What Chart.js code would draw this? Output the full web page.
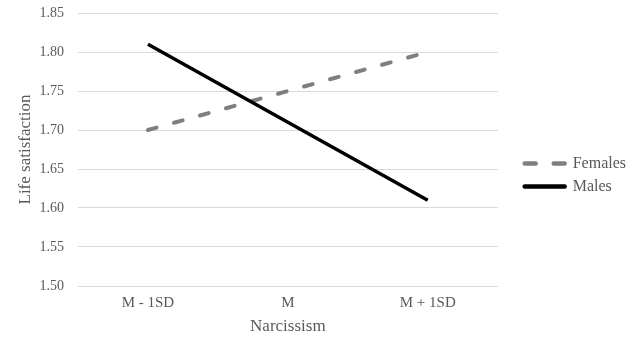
<!DOCTYPE html>
<html>
<head>
<meta charset="utf-8">
<script src="https://cdn.jsdelivr.net/npm/chart.js@4.4.1/dist/chart.umd.min.js"></script>
<style>
  html, body { margin: 0; padding: 0; background: #fff; }
  #wrap { width: 638px; height: 339px; }
</style>
</head>
<body>
<div id="wrap"><canvas id="chart" width="638" height="339"></canvas></div>
<script>
// Narcissism levels on the x axis
const categories = ['M - 1SD', 'M', 'M + 1SD'];
// Life satisfaction by gender
const females = [1.70, 1.75, 1.80];
const males = [1.81, 1.71, 1.61];

const textColor = '#595959';
const family = '"Liberation Serif", "Times New Roman", serif';
const tickFont = { family: family, size: 15 };
const titleFont = { family: family, size: 17 };

// leave a gap between the plot and the legend, like the original
const legendGap = {
  id: 'legendGap',
  beforeLayout(chart) {
    const lg = chart.legend;
    if (!lg || lg._gapPatched) return;
    const extra = 20;
    const fit = lg.fit.bind(lg);
    lg.fit = function () { fit(); this.width += extra; };
    const draw = lg.draw.bind(lg);
    lg.draw = function () {
      const l = this.left;
      this.left += extra;
      draw();
      this.left = l;
    };
    lg._gapPatched = true;
  },
};

const ctx = document.getElementById('chart').getContext('2d');
new Chart(ctx, {
  type: 'line',
  data: {
    labels: categories,
    datasets: [
      {
        label: 'Females',
        data: females,
        borderColor: '#7f7f7f',
        borderWidth: 4,
        borderDash: [9, 18],
        borderCapStyle: 'round',
        pointRadius: 0,
        fill: false,
        tension: 0,
        order: 1,
      },
      {
        label: 'Males',
        data: males,
        borderColor: '#000000',
        borderWidth: 3.5,
        pointRadius: 0,
        fill: false,
        tension: 0,
        order: 0,
      },
    ],
  },
  options: {
    responsive: false,
    animation: false,
    layout: { padding: { top: 13, right: 2, left: 15, bottom: 2 } },
    plugins: {
      tooltip: { enabled: false },
      legend: {
        position: 'right',
        labels: {
          color: textColor,
          font: { family: family, size: 16 },
          usePointStyle: true,
          pointStyleWidth: 40,
          padding: 7,
          // draw legend items as plain lines (dashed for Females)
          generateLabels: (chart) => chart.data.datasets.map((ds, i) => ({
            text: ds.label,
            fillStyle: ds.borderColor,
            strokeStyle: ds.borderColor,
            lineWidth: 4.5,
            lineDash: ds.borderDash ? [11, 18] : [],
            lineCap: 'round',
            pointStyle: 'line',
            fontColor: textColor,
            datasetIndex: i,
          })),
        },
      },
    },
    scales: {
      x: {
        offset: true,
        grid: { display: false },
        border: { display: false },
        ticks: { color: textColor, font: tickFont, padding: 0 },
        title: { display: true, text: 'Narcissism', color: textColor, font: titleFont, padding: 0 },
        afterFit: (scale) => { scale.height = 51; },
      },
      y: {
        min: 1.5,
        max: 1.85,
        ticks: {
          stepSize: 0.05,
          color: textColor,
          font: { family: family, size: 14 },
          padding: 0,
          callback: (v) => v.toFixed(2),
        },
        grid: { color: '#d9d9d9', lineWidth: 1, drawTicks: true, tickLength: 14, tickColor: 'rgba(0,0,0,0)' },
        border: { display: false },
        title: { display: true, text: 'Life satisfaction', color: textColor, font: titleFont, padding: 0 },
        afterFit: (scale) => { scale.width = 63; },
      },
    },
  },
  plugins: [legendGap],
});
</script>
</body>
</html>
